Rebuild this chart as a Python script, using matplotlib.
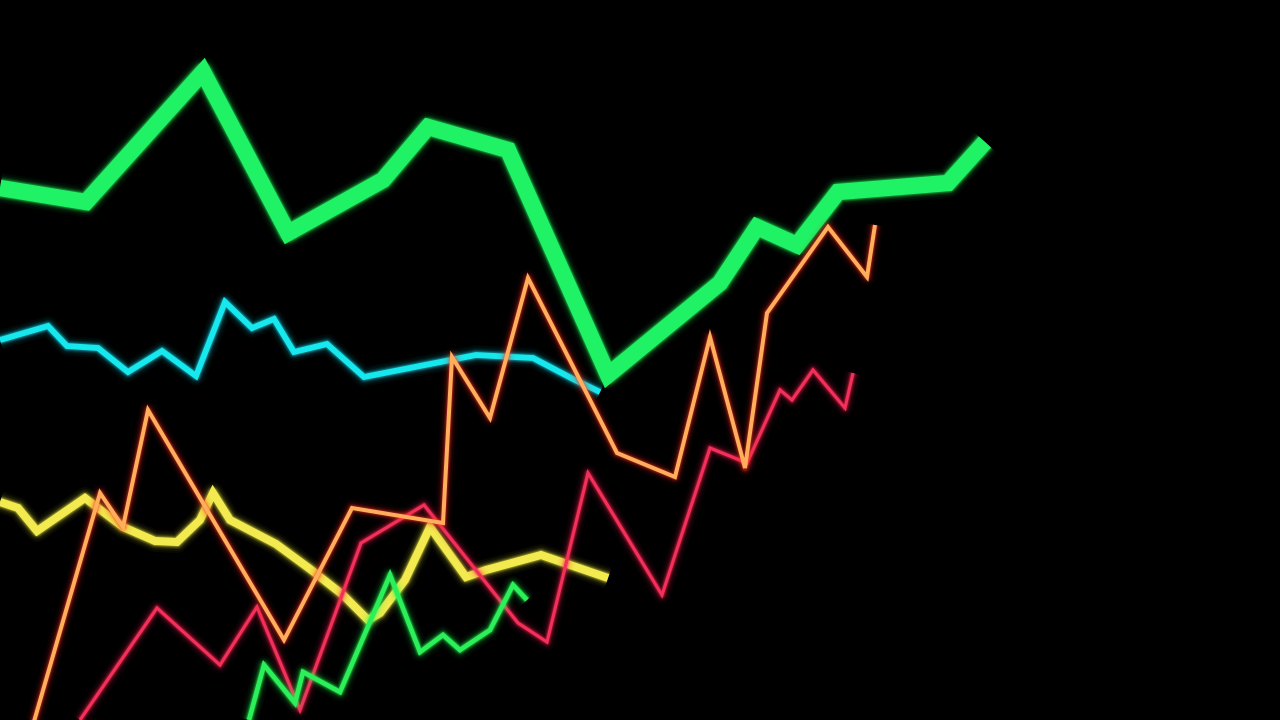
import matplotlib
matplotlib.use("Agg")
import matplotlib.pyplot as plt

# x positions and values (value = height above bottom edge)
big_green_x = [0, 86, 203, 288, 383, 428, 508, 608, 720, 757, 797, 838, 948, 985]
big_green_y = [532, 518, 648, 487, 540, 593, 570, 345, 437, 493, 475, 528, 537, 578]

cyan_x = [0, 48, 67, 98, 128, 162, 196, 225, 252, 274, 294, 327, 364, 476, 533, 575, 600]
cyan_y = [380, 394, 374, 372, 348, 369, 344, 418, 392, 401, 368, 376, 343, 365, 362, 340, 328]

yellow_x = [0, 18, 37, 85, 123, 155, 177, 200, 213, 230, 276, 310, 343, 368, 380, 405, 430, 466, 486, 541, 608]
yellow_y = [218, 212, 189, 222, 193, 179, 178, 200, 227, 200, 176, 151, 125, 100, 107, 140, 193, 143, 150, 165, 142]

orange_x = [33, 100, 123, 148, 284, 352, 443, 452, 490, 528, 617, 675, 710, 745, 767, 828, 867, 875]
orange_y = [-5, 227, 193, 310, 80, 212, 197, 363, 302, 442, 267, 243, 383, 252, 407, 493, 443, 495]

red_x = [80, 157, 220, 257, 300, 361, 424, 518, 547, 588, 662, 710, 747, 780, 792, 813, 845, 853]
red_y = [0, 112, 55, 113, 10, 177, 215, 97, 78, 247, 125, 272, 257, 330, 320, 350, 312, 347]

small_green_x = [249, 264, 295, 303, 340, 390, 420, 443, 460, 490, 513, 527]
small_green_y = [0, 55, 17, 48, 28, 145, 68, 85, 70, 90, 135, 120]

fig = plt.figure(figsize=(12.8, 7.2), dpi=100, facecolor="black")
ax = fig.add_axes([0, 0, 1, 1])
ax.set_facecolor("black")
ax.set_xlim(0, 1280)
ax.set_ylim(0, 720)
ax.axis("off")


def neon(x, y, color, glow, lw, z):
    for k, a in [(10, 0.04), (7, 0.06), (4.5, 0.1), (2.8, 0.16), (1.4, 0.28)]:
        ax.plot(x, y, color=glow, lw=lw + k, alpha=a, solid_joinstyle="round",
                solid_capstyle="butt", zorder=z)
    ax.plot(x, y, color=color, lw=lw, solid_joinstyle="miter",
            solid_capstyle="butt", zorder=z + 0.5)


neon(big_green_x, big_green_y, "#1ff264", "#20ff60", 11.8, 1)
neon(cyan_x, cyan_y, "#17e8ee", "#10e0f0", 4.2, 2)
neon(yellow_x, yellow_y, "#f2ea4e", "#f0f040", 5.8, 3)
neon(red_x, red_y, "#f2305a", "#ff2050", 2.3, 4)
neon(small_green_x, small_green_y, "#2cf05a", "#20ff50", 3.4, 5)
neon(orange_x, orange_y, "#ffae5c", "#ff3020", 2.9, 6)

fig.savefig("out.png", dpi=100, facecolor="black")
